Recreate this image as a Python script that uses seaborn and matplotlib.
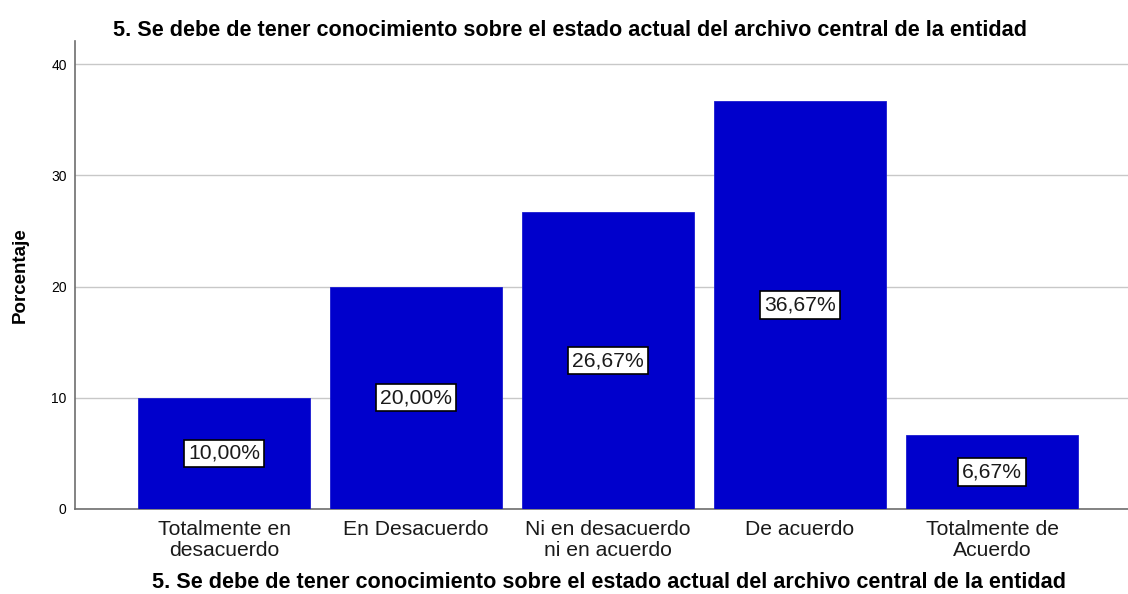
import matplotlib
matplotlib.use("Agg")
import matplotlib.pyplot as plt
import seaborn as sns
import pandas as pd

categorias = ["Totalmente en\ndesacuerdo", "En Desacuerdo", "Ni en desacuerdo\nni en acuerdo",
              "De acuerdo", "Totalmente de\nAcuerdo"]
porcentajes = [10.00, 20.00, 26.67, 36.67, 6.67]
etiquetas = ["10,00%", "20,00%", "26,67%", "36,67%", "6,67%"]
titulo = "5. Se debe de tener conocimiento sobre el estado actual del archivo central de la entidad"

sns.set_theme(style="white")
plt.rcParams["font.family"] = ["Liberation Sans", "DejaVu Sans"]

df = pd.DataFrame({"cat": categorias, "pct": porcentajes})

fig = plt.figure(figsize=(11.28, 5.94), dpi=100)
ax = fig.add_axes([75 / 1128, 1 - 509 / 594, 1 - 75 / 1128, (509 - 41) / 594])

sns.barplot(data=df, x="cat", y="pct", color="#0000CC", saturation=1,
            width=0.896, edgecolor="#1a1ad0", linewidth=0.6, ax=ax, zorder=3)

ax.set_ylim(0, 42.07)
ax.set_xlim(-0.776, 4.708)
ax.set_yticks([0, 10, 20, 30, 40])
ax.yaxis.grid(True, color="#c8c8c8", linewidth=1.0, zorder=0)
ax.set_axisbelow(True)
for s in ["top", "right"]:
    ax.spines[s].set_visible(False)
for s in ["left", "bottom"]:
    ax.spines[s].set_color("#6e6e6e")
    ax.spines[s].set_linewidth(1.2)

ax.tick_params(axis="y", labelsize=10, length=0, pad=6, colors="#000000")
ax.tick_params(axis="x", labelsize=15.2, length=0, pad=8, colors="#1a1a1a")
for t in ax.get_xticklabels():
    t.set_linespacing(1.1)

ax.set_xlabel(titulo, fontsize=15.6, fontweight="bold", color="black")
ax.xaxis.set_label_coords((609 - 75) / 1053, -(582 - 509) / 468, transform=ax.transAxes)
ax.xaxis.label.set_va("center")
ax.set_ylabel("Porcentaje", fontsize=13.5, fontweight="bold", labelpad=16, color="black")
fig.text(570 / 1128, 1 - 30 / 594, titulo, ha="center", va="center",
         fontsize=15.6, fontweight="bold", color="black")

for i, (v, lab) in enumerate(zip(porcentajes, etiquetas)):
    ax.text(i, v / 2, lab, ha="center", va="center", fontsize=15.2, color="#1a1a1a",
            zorder=5,
            bbox=dict(boxstyle="square,pad=0.2", facecolor="white",
                      edgecolor="black", linewidth=1.2))

fig.savefig("out.png", dpi=100)
